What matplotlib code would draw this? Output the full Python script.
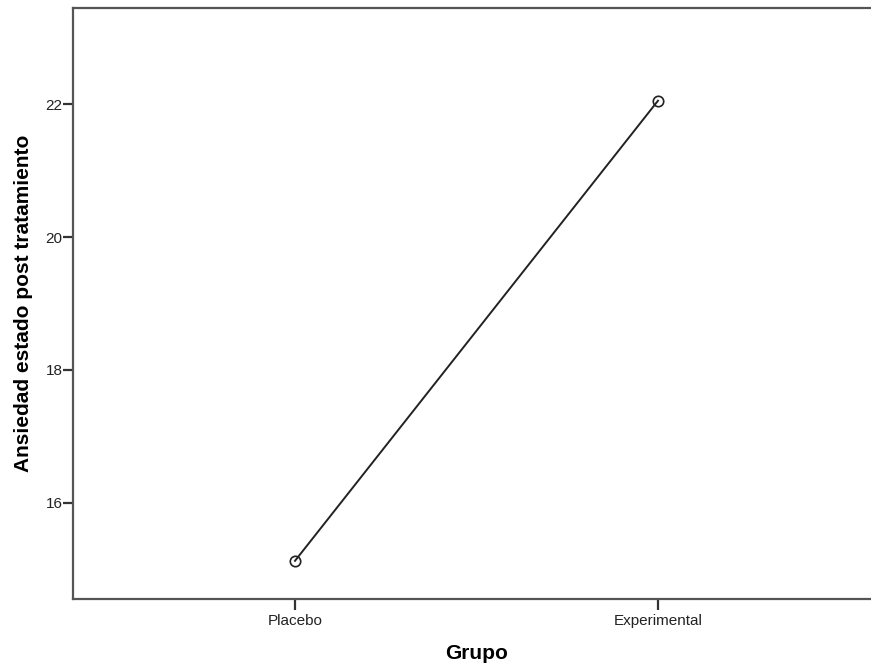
import matplotlib
matplotlib.use("Agg")
import matplotlib.pyplot as plt

groups = ["Placebo", "Experimental"]
means = [15.13, 22.05]
yticks = [16, 18, 20, 22]

plt.rcParams['font.family'] = ['Liberation Sans', 'DejaVu Sans']

fig = plt.figure(figsize=(8.71, 6.65), dpi=100)
ax = fig.add_axes([73/871, 1-599/665, (880-73)/871, (599-8)/665])

x = list(range(len(groups)))
ax.plot(x, means, color='#222222', linewidth=1.4, marker='o', markersize=7.5,
        markerfacecolor='none', markeredgecolor='#222222', markeredgewidth=1.2)

ax.set_xlim(-0.6116, 1.6116)
ax.set_ylim(14.556, 23.444)
ax.set_xticks(x)
ax.set_xticklabels(groups, fontsize=11)
ax.set_yticks(yticks)
ax.set_yticklabels([str(v) for v in yticks], fontsize=11)

for s in ['left', 'bottom', 'top']:
    ax.spines[s].set_color('#555555')
    ax.spines[s].set_linewidth(1.6)
ax.spines['right'].set_visible(False)
ax.tick_params(axis='y', length=7, width=1.6, color='#333333', pad=0.5, labelcolor='#222222')
ax.tick_params(axis='x', length=8, width=1.6, color='#333333', pad=3, labelcolor='#222222')

ax.set_xlabel("Grupo", fontsize=15, fontweight='bold', labelpad=11)
ax.set_ylabel("Ansiedad estado post tratamiento", fontsize=15, fontweight='bold', labelpad=9)

fig.savefig("out.png", dpi=100)
